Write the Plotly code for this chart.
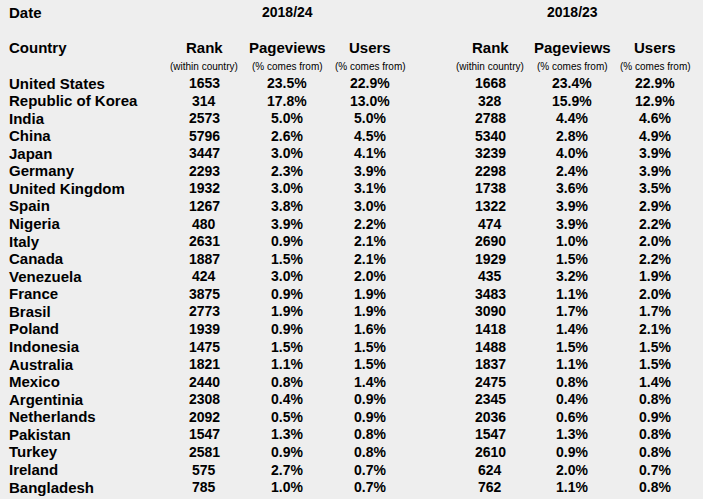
import plotly.graph_objects as go

dates = ["2018/24", "2018/23"]
columns = ["Rank", "Pageviews", "Users"]
subcolumns = ["(within country)", "(% comes from)", "(% comes from)"]
countries = ["United States", "Republic of Korea", "India", "China", "Japan", "Germany",
             "United Kingdom", "Spain", "Nigeria", "Italy", "Canada", "Venezuela", "France",
             "Brasil", "Poland", "Indonesia", "Australia", "Mexico", "Argentinia",
             "Netherlands", "Pakistan", "Turkey", "Ireland", "Bangladesh"]
rank_24 = [1653, 314, 2573, 5796, 3447, 2293, 1932, 1267, 480, 2631, 1887, 424, 3875,
           2773, 1939, 1475, 1821, 2440, 2308, 2092, 1547, 2581, 575, 785]
pageviews_24 = [23.5, 17.8, 5.0, 2.6, 3.0, 2.3, 3.0, 3.8, 3.9, 0.9, 1.5, 3.0, 0.9,
                1.9, 0.9, 1.5, 1.1, 0.8, 0.4, 0.5, 1.3, 0.9, 2.7, 1.0]
users_24 = [22.9, 13.0, 5.0, 4.5, 4.1, 3.9, 3.1, 3.0, 2.2, 2.1, 2.1, 2.0, 1.9,
            1.9, 1.6, 1.5, 1.5, 1.4, 0.9, 0.9, 0.8, 0.8, 0.7, 0.7]
rank_23 = [1668, 328, 2788, 5340, 3239, 2298, 1738, 1322, 474, 2690, 1929, 435, 3483,
           3090, 1418, 1488, 1837, 2475, 2345, 2036, 1547, 2610, 624, 762]
pageviews_23 = [23.4, 15.9, 4.4, 2.8, 4.0, 2.4, 3.6, 3.9, 3.9, 1.0, 1.5, 3.2, 1.1,
                1.7, 1.4, 1.5, 1.1, 0.8, 0.4, 0.6, 1.3, 0.9, 2.0, 1.1]
users_23 = [22.9, 12.9, 4.6, 4.9, 3.9, 3.9, 3.5, 2.9, 2.2, 2.0, 2.2, 1.9, 2.0,
            1.7, 2.1, 1.5, 1.5, 1.4, 0.8, 0.9, 0.8, 0.8, 0.7, 0.8]

# ---- layout constants (pixel-like axis units) ----
W, H = 703, 499
FONT = "Arial, Liberation Sans, sans-serif"
row_y0, row_dy = 83, 17.57
y_date, y_head, y_sub = 12, 47, 66
x_country = 7
group_x = [[204, 287, 370], [490, 572, 655]]
date_x = [287, 572]

ann = []


def add(x, y, text, size, anchor="center"):
    ann.append(dict(x=x, y=y, xref="x", yref="y", text=text, showarrow=False,
                    xanchor=anchor, yanchor="middle",
                    font=dict(family=FONT, size=size, color="#000000")))


add(x_country, y_date, "<b>Date</b>", 15, "left")
add(x_country, y_head, "<b>Country</b>", 15, "left")
for d, dx in zip(dates, date_x):
    add(dx, y_date, f"<b>{d}</b>", 14)

for gx in group_x:
    for c, s, hx in zip(columns, subcolumns, gx):
        add(hx, y_head, f"<b>{c}</b>", 15)
        add(hx, y_sub, s, 10)

series = [(rank_24, pageviews_24, users_24), (rank_23, pageviews_23, users_23)]
for i, name in enumerate(countries):
    y = row_y0 + i * row_dy
    add(x_country, y, f"<b>{name}</b>", 15, "left")
    for gx, (rk, pv, us) in zip(group_x, series):
        add(gx[0], y, f"<b>{rk[i]}</b>", 14)
        add(gx[1], y, f"<b>{pv[i]:.1f}%</b>", 14)
        add(gx[2], y, f"<b>{us[i]:.1f}%</b>", 14)

fig = go.Figure()
fig.add_trace(go.Scatter(x=[0, W], y=[0, H], mode="markers",
                         marker=dict(opacity=0), hoverinfo="skip", showlegend=False))
fig.update_layout(
    width=W, height=H, margin=dict(l=0, r=0, t=0, b=0),
    paper_bgcolor="#eeeeee", plot_bgcolor="#eeeeee",
    xaxis=dict(range=[0, W], visible=False, fixedrange=True),
    yaxis=dict(range=[H, 0], visible=False, fixedrange=True),
    annotations=ann, showlegend=False,
)
fig.write_html(
    "out.html",
    config={"displayModeBar": False},
    post_script="document.body.style.margin='0';document.body.style.background='#eeeeee';",
)
